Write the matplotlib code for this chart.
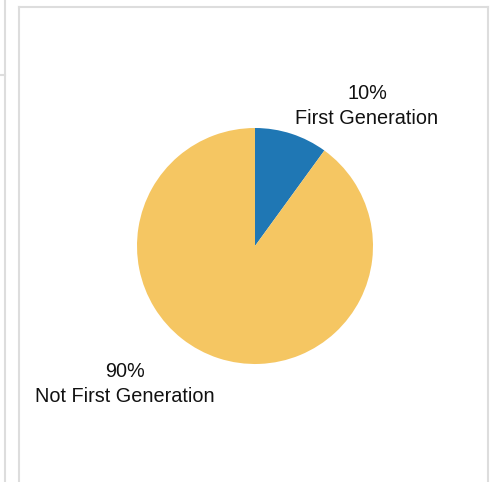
import matplotlib.pyplot as plt
from matplotlib.lines import Line2D

labels = ['First Generation', 'Not First Generation']
shares = [10, 90]
colors = ['#1f77b4', '#f5c662']

W, H = 491, 482
fig = plt.figure(figsize=(W / 100, H / 100), dpi=100)
plt.rcParams['font.family'] = ['Liberation Sans', 'DejaVu Sans']

# pie centre ~ (255, 246), radius ~118 px
cx, cy, r = 255, 246, 118
ax = fig.add_axes([(cx - r) / W, 1 - (cy + r) / H, 2 * r / W, 2 * r / H])
ax.pie(shares, colors=colors, startangle=90, counterclock=False,
       wedgeprops=dict(linewidth=0))
ax.set_aspect('equal')
ax.set_xlim(-1, 1)
ax.set_ylim(-1, 1)

# labels placed in figure pixels
label_pos = [(367, 106), (125, 384)]
for lab, s, (x, y) in zip(labels, shares, label_pos):
    fig.text(x / W, 1 - y / H, f'{s}%\n{lab}', ha='center', va='center',
             fontsize=14.3, color='#111111', linespacing=1.45)

# panel frame from the screenshot
grey = '#dddddd'
def seg(x0, y0, x1, y1):
    fig.add_artist(Line2D([x0 / W, x1 / W], [1 - y0 / H, 1 - y1 / H],
                          color=grey, linewidth=1.5))

seg(19, 7, 488, 7)
seg(19, 7, 19, H)
seg(488, 7, 488, H)
seg(5, 0, 5, H)
seg(0, 75, 5, 75)

fig.savefig('out.png', dpi=100)
